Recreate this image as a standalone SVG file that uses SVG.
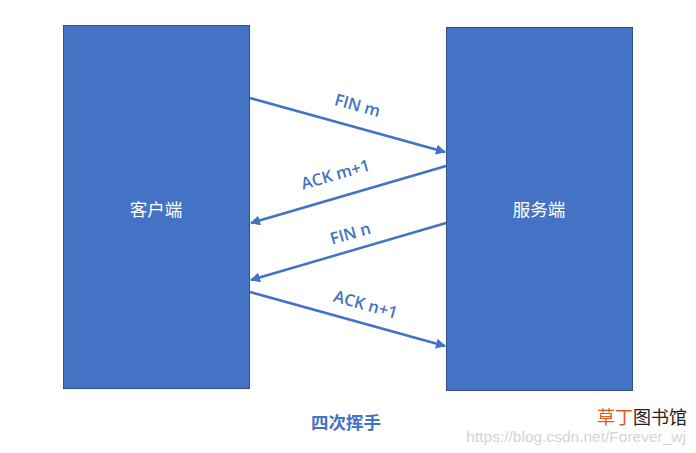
<svg xmlns="http://www.w3.org/2000/svg" width="696" height="453" viewBox="0 0 696 453">
<style>
.box{fill:#4472C4;stroke:#2F528F;stroke-width:1}
.bt{font-family:"Noto Sans CJK SC","Noto Sans",sans-serif;font-size:17.5px;fill:#fff;text-anchor:middle}
.ln{stroke:#4472C4;stroke-width:2.5;fill:none}
.lb{font-family:"Open Sans","Liberation Sans",sans-serif;font-size:16.5px;font-weight:600;fill:#4472C4;text-anchor:middle}
</style>
<defs>
<marker id="ah" viewBox="0 0 10 10" refX="9" refY="5" markerWidth="4" markerHeight="4" orient="auto" markerUnits="strokeWidth">
<path d="M0,0 L10,5 L0,10 z" fill="#4472C4"/>
</marker>
</defs>
<rect width="696" height="453" fill="#fff"/>
<g id="client">
<rect class="box" x="63.5" y="25.5" width="186" height="363"/>
<text class="bt" x="156" y="216">客户端</text>
</g>
<g id="server">
<rect class="box" x="446.5" y="27.5" width="186" height="363"/>
<text class="bt" x="539" y="216">服务端</text>
</g>
<g id="connectors">
<line class="ln" x1="250" y1="98" x2="445" y2="152" marker-end="url(#ah)"/>
<line class="ln" x1="446" y1="166" x2="251" y2="223" marker-end="url(#ah)"/>
<line class="ln" x1="446" y1="223" x2="251" y2="280" marker-end="url(#ah)"/>
<line class="ln" x1="250" y1="292" x2="445" y2="346" marker-end="url(#ah)"/>
<text class="lb" transform="translate(356,111) rotate(15.5)">FIN m</text>
<text class="lb" transform="translate(337,180) rotate(-16)">ACK m+1</text>
<text class="lb" transform="translate(352,239) rotate(-16)">FIN n</text>
<text class="lb" transform="translate(364,310) rotate(15.5)">ACK n+1</text>
</g>
<text x="346" y="429" font-family="Noto Sans CJK SC,sans-serif" font-size="17.5" font-weight="bold" fill="#4472C4" text-anchor="middle">四次挥手</text>
<text x="597" y="424" font-family="Noto Sans CJK SC,sans-serif" font-size="18"><tspan fill="#E8561E">草丁</tspan><tspan fill="#222">图书馆</tspan></text>
<text x="686" y="442" font-family="Liberation Sans,sans-serif" font-size="15.5" fill="#d4d4d4" text-anchor="end">https://blog.csdn.net/Forever_wj</text>
</svg>
